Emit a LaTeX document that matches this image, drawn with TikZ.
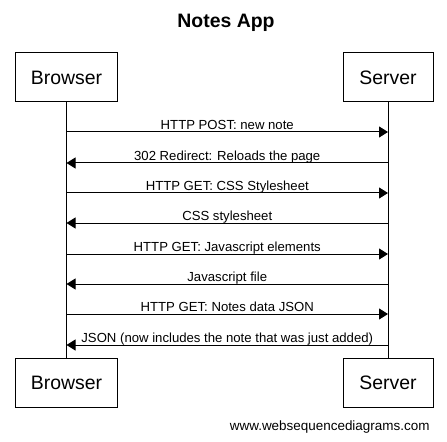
\documentclass[tikz,border=0pt]{standalone}
\usepackage{fontspec}
\setmainfont{Liberation Sans}
\usetikzlibrary{arrows.meta}

\tikzset{
    actor/.style={shape=rectangle,draw,line width=1bp,minimum width=#1,minimum height=49bp,inner sep=0pt,font=\fontsize{19.5}{22}\selectfont},
    msg/.style={-{Triangle[length=9bp,width=11bp]},line width=1bp},
    lbl/.style={anchor=base,yshift=2.5bp,inner sep=0pt,font=\fontsize{13.2}{15}\selectfont},
}

\begin{document}
\begin{tikzpicture}[x=1bp,y=-1bp]
    \useasboundingbox (0,0) rectangle (447,442);
    \node[font=\bfseries\fontsize{19.5}{22}\selectfont] (title) at (226,23) {Notes App};

    \node[actor=102bp] (bt) at (66.5,77.5) {Browser};
    \node[actor=90bp] (st) at (388,77.5) {Server};
    \node[actor=102bp] (bb) at (66.5,382.5) {Browser};
    \node[actor=90bp] (sb) at (388,382.5) {Server};

    \path[line width=1bp] (bt) edge (bb);
    \path[line width=1bp] (st) edge (sb);

    \coordinate (b1) at (66.5,132); \coordinate (s1) at (388,132);
    \coordinate (b2) at (66.5,163); \coordinate (s2) at (388,163);
    \coordinate (b3) at (66.5,193); \coordinate (s3) at (388,193);
    \coordinate (b4) at (66.5,223); \coordinate (s4) at (388,223);
    \coordinate (b5) at (66.5,254); \coordinate (s5) at (388,254);
    \coordinate (b6) at (66.5,284); \coordinate (s6) at (388,284);
    \coordinate (b7) at (66.5,314); \coordinate (s7) at (388,314);
    \coordinate (b8) at (66.5,345); \coordinate (s8) at (388,345);

    \path[] (b1) edge[msg] node[lbl] {HTTP POST: new note} (s1);
    \path[] (s2) edge[msg] node[lbl] {302 Redirect: Reloads the page} (b2);
    \path[] (b3) edge[msg] node[lbl] {HTTP GET: CSS Stylesheet} (s3);
    \path[] (s4) edge[msg] node[lbl] {CSS stylesheet} (b4);
    \path[] (b5) edge[msg] node[lbl] {HTTP GET: Javascript elements} (s5);
    \path[] (s6) edge[msg] node[lbl] {Javascript file} (b6);
    \path[] (b7) edge[msg] node[lbl] {HTTP GET: Notes data JSON} (s7);
    \path[] (s8) edge[msg] node[lbl] {JSON (now includes the note that was just added)} (b8);

    \node[anchor=east,font=\fontsize{13.5}{16}\selectfont] (web) at (433,427) {www.websequencediagrams.com};
\end{tikzpicture}
\end{document}
